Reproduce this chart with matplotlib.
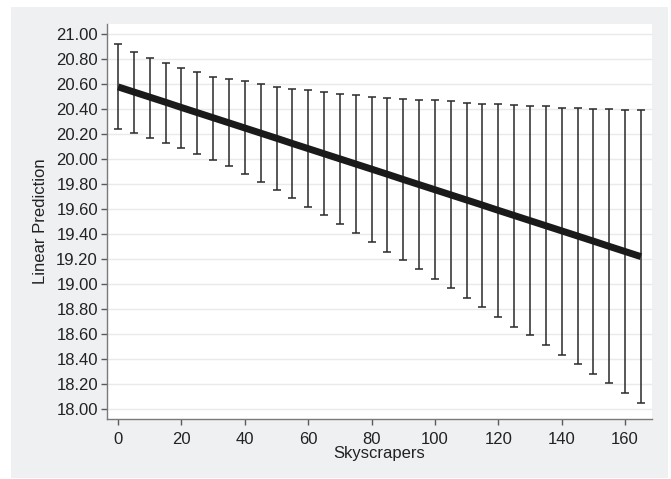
import matplotlib
matplotlib.use("Agg")
import matplotlib.pyplot as plt
from matplotlib.patches import Rectangle
import numpy as np

skyscrapers = [0, 5, 10, 15, 20, 25, 30, 35, 40, 45, 50, 55, 60, 65, 70, 75, 80,
               85, 90, 95, 100, 105, 110, 115, 120, 125, 130, 135, 140, 145, 150,
               155, 160, 165]
prediction = [20.577, 20.536, 20.495, 20.454, 20.412, 20.371, 20.330, 20.289,
              20.248, 20.207, 20.166, 20.124, 20.083, 20.042, 20.001, 19.960,
              19.919, 19.878, 19.836, 19.795, 19.754, 19.713, 19.672, 19.631,
              19.589, 19.548, 19.507, 19.466, 19.425, 19.384, 19.343, 19.301,
              19.260, 19.219]
ci_upper = [20.92, 20.86, 20.81, 20.77, 20.73, 20.70, 20.66, 20.64, 20.62, 20.60,
            20.58, 20.56, 20.55, 20.54, 20.52, 20.51, 20.50, 20.49, 20.48, 20.47,
            20.47, 20.46, 20.45, 20.44, 20.44, 20.43, 20.42, 20.42, 20.41, 20.41,
            20.40, 20.40, 20.39, 20.39]
ci_lower = [20.24, 20.21, 20.17, 20.13, 20.09, 20.04, 19.99, 19.94, 19.88, 19.82,
            19.75, 19.69, 19.62, 19.55, 19.48, 19.41, 19.34, 19.26, 19.19, 19.12,
            19.04, 18.97, 18.89, 18.82, 18.74, 18.66, 18.59, 18.51, 18.43, 18.36,
            18.28, 18.21, 18.13, 18.05]
y_ticks = [18.0, 18.2, 18.4, 18.6, 18.8, 19.0, 19.2, 19.4, 19.6, 19.8, 20.0,
           20.2, 20.4, 20.6, 20.8, 21.0]
x_ticks = [0, 20, 40, 60, 80, 100, 120, 140, 160]

plt.rcParams['font.family'] = ['Liberation Sans', 'DejaVu Sans']

fig = plt.figure(figsize=(6.71, 4.79), dpi=100)
fig.patch.set_facecolor('white')
fig.patches.append(Rectangle((11/671, 1/479), 657/671, 471/479,
                             transform=fig.transFigure, facecolor='#eff0f2',
                             edgecolor='none', zorder=-10))

ax = fig.add_axes([107/671, 1 - 419/479, 545/671, 395/479])
ax.set_zorder(5)
ax.set_facecolor('white')

x = np.array(skyscrapers)
m = np.array(prediction)
lo = np.array(ci_lower)
hi = np.array(ci_upper)

ax.errorbar(x, m, yerr=[m - lo, hi - m], fmt='none', ecolor='#2a2a2a',
            elinewidth=1.1, capsize=3.2, capthick=1.1, zorder=2)
ax.plot(x, m, color='#1a1a1a', linewidth=5, solid_capstyle='butt', zorder=3)

ax.set_xlim(-3.5, 168.5)
ax.set_ylim(17.92, 21.08)
ax.set_yticks(y_ticks)
ax.set_yticklabels([f"{v:.2f}" for v in y_ticks])
ax.set_xticks(x_ticks)

ax.yaxis.grid(True, color='#eaeaea', linewidth=1.0)
ax.set_axisbelow(True)
for s in ['top', 'right']:
    ax.spines[s].set_visible(False)
for s in ['left', 'bottom']:
    ax.spines[s].set_color('#7a7a7a')
    ax.spines[s].set_linewidth(1.0)
ax.tick_params(axis='both', colors='#5a5a5a', length=4.5, width=1.0,
               labelsize=12, labelcolor='#222222', pad=2)
ax.tick_params(axis='x', pad=5)

ax.set_xlabel('Skyscrapers', fontsize=12, color='#222222', labelpad=-1)
ax.set_ylabel('Linear Prediction', fontsize=12, color='#222222', labelpad=6)

fig.savefig('out.png', dpi=100)
